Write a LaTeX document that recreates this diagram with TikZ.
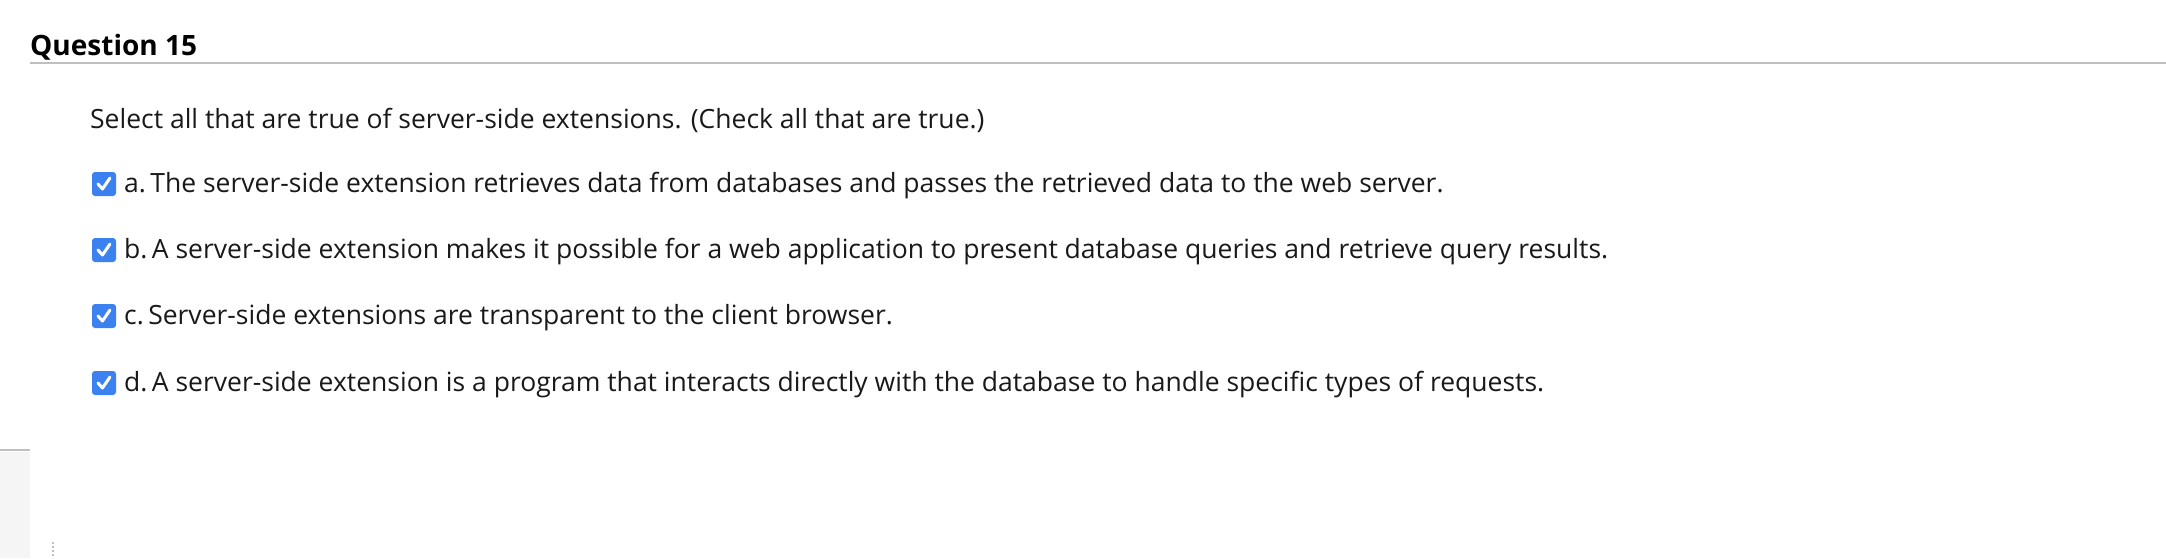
\documentclass[tikz,border=0pt]{standalone}
\usepackage{fontspec}
\setmainfont{Open Sans}
\begin{document}
\begin{tikzpicture}[x=1pt,y=-1pt,
  opt/.style={anchor=base west,inner sep=0pt,font=\fontsize{26.5}{30}\selectfont,text=black!90},
  cbox/.style={fill=cbblue,rounded corners=3pt,minimum size=24pt,inner sep=0pt}]
\definecolor{cbblue}{HTML}{3B82F0}
\useasboundingbox (0,0) rectangle (2166,558);
\fill[black!4] (0,452) rectangle (30,558);
\draw[black!25,line width=2pt] (0,450) -- (30,450);
\draw[black!25,line width=1.2pt,dash pattern=on 2pt off 2pt] (53,542) -- (53,556);
\node[anchor=base west,inner sep=0pt,font=\fontsize{28}{32}\selectfont\bfseries] (title) at (30,55) {Question 15};
\draw[black!25,line width=1.5pt] (30,63) -- (2166,63);
\node[opt] (q) at (90,128) {Select all that are true of server-side extensions. (Check all that are true.)};
\foreach \n/\y/\t in {a/192/{a.\,The server-side extension retrieves data from databases and passes the retrieved data to the web server.},
 b/258/{b.\,A server-side extension makes it possible for a web application to present database queries and retrieve query results.},
 c/324/{c.\,Server-side extensions are transparent to the client browser.},
 d/391/{d.\,A server-side extension is a program that interacts directly with the database to handle specific types of requests.}}{
  \node[cbox] (box\n) at (104,\y-8) {};
  \draw[white,line width=3pt,line cap=round,line join=round] ([shift={(-6,0)}]box\n.center) -- ([shift={(-1.5,5)}]box\n.center) -- ([shift={(6,-6)}]box\n.center);
  \node[opt] (t\n) at (124,\y) {\t};
}
\end{tikzpicture}
\end{document}
